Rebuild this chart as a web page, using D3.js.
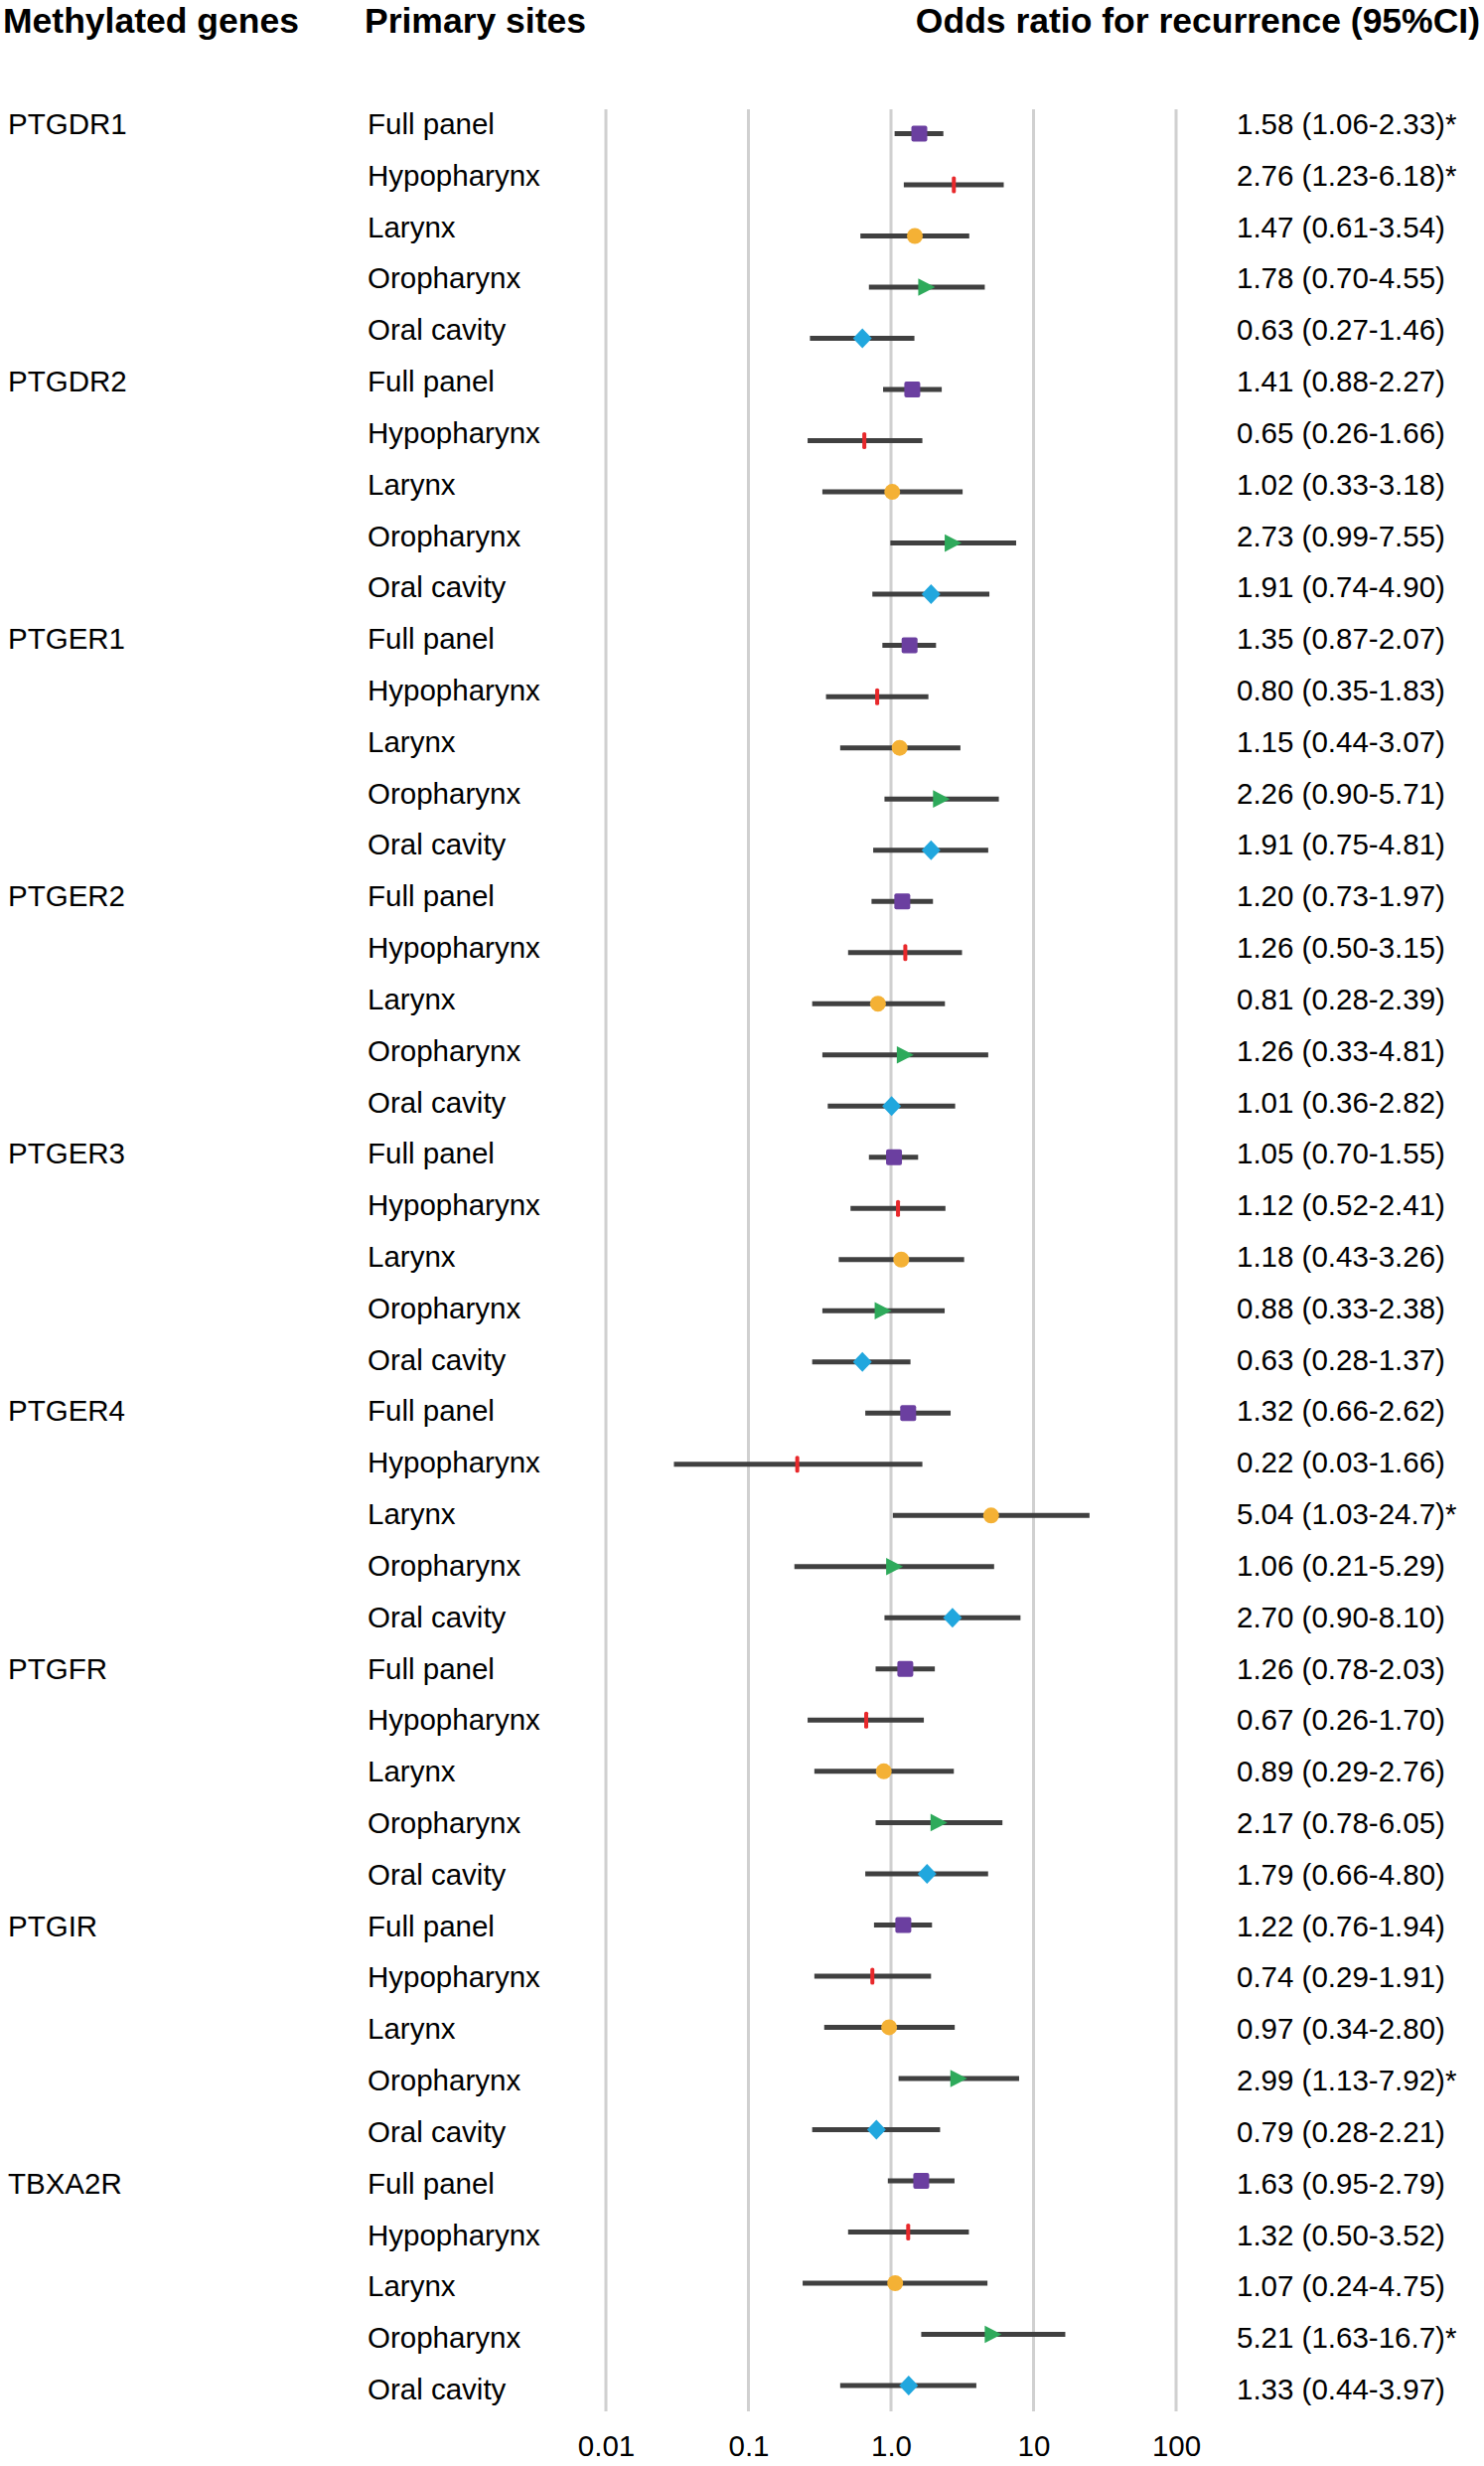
<!DOCTYPE html>
<html>
<head>
<meta charset="utf-8">
<script src="https://cdn.jsdelivr.net/npm/d3@7"></script>
<style>
  html, body { margin: 0; padding: 0; background: #fff; }
  svg { display: block; }
  text { font-family: "Liberation Sans", Arial, Helvetica, sans-serif; fill: #000; }
</style>
</head>
<body>
<svg id="chart" width="1494" height="2482"></svg>
<script>
// ---- data ----
const genes = ["PTGDR1", "PTGDR2", "PTGER1", "PTGER2", "PTGER3", "PTGER4", "PTGFR", "PTGIR", "TBXA2R"];
const sites = ["Full panel", "Hypopharynx", "Larynx", "Oropharynx", "Oral cavity"];
const oddsRatio = [
  1.58, 2.76, 1.47, 1.78, 0.63,
  1.41, 0.65, 1.02, 2.73, 1.91,
  1.35, 0.80, 1.15, 2.26, 1.91,
  1.20, 1.26, 0.81, 1.26, 1.01,
  1.05, 1.12, 1.18, 0.88, 0.63,
  1.32, 0.22, 5.04, 1.06, 2.70,
  1.26, 0.67, 0.89, 2.17, 1.79,
  1.22, 0.74, 0.97, 2.99, 0.79,
  1.63, 1.32, 1.07, 5.21, 1.33
];
const ciLow = [
  1.06, 1.23, 0.61, 0.70, 0.27,
  0.88, 0.26, 0.33, 0.99, 0.74,
  0.87, 0.35, 0.44, 0.90, 0.75,
  0.73, 0.50, 0.28, 0.33, 0.36,
  0.70, 0.52, 0.43, 0.33, 0.28,
  0.66, 0.03, 1.03, 0.21, 0.90,
  0.78, 0.26, 0.29, 0.78, 0.66,
  0.76, 0.29, 0.34, 1.13, 0.28,
  0.95, 0.50, 0.24, 1.63, 0.44
];
const ciHigh = [
  2.33, 6.18, 3.54, 4.55, 1.46,
  2.27, 1.66, 3.18, 7.55, 4.90,
  2.07, 1.83, 3.07, 5.71, 4.81,
  1.97, 3.15, 2.39, 4.81, 2.82,
  1.55, 2.41, 3.26, 2.38, 1.37,
  2.62, 1.66, 24.7, 5.29, 8.10,
  2.03, 1.70, 2.76, 6.05, 4.80,
  1.94, 1.91, 2.80, 7.92, 2.21,
  2.79, 3.52, 4.75, 16.7, 3.97
];
const significant = [
  1, 1, 0, 0, 0,
  0, 0, 0, 0, 0,
  0, 0, 0, 0, 0,
  0, 0, 0, 0, 0,
  0, 0, 0, 0, 0,
  0, 0, 1, 0, 0,
  0, 0, 0, 0, 0,
  0, 0, 0, 1, 0,
  0, 0, 0, 1, 0
];
const tickValues = [0.01, 0.1, 1, 10, 100];
const tickLabels = ["0.01", "0.1", "1.0", "10", "100"];
const headers = ["Methylated genes", "Primary sites", "Odds ratio for recurrence (95%CI)"];

// ---- layout ----
const siteColor = d3.scaleOrdinal().domain(sites)
  .range(["#6B3FA0", "#E8282B", "#F4B135", "#2EAA5B", "#21A7DE"]);

const rows = [];
genes.forEach((g, gi) => sites.forEach((s, si) => {
  const i = gi * sites.length + si;
  rows.push({ i, gene: g, site: s, first: si === 0, or: oddsRatio[i], lo: ciLow[i], hi: ciHigh[i], sig: significant[i] });
}));

const svg = d3.select("#chart");
const x = d3.scaleLog().domain([0.01, 100]).range([610, 1184]);
const y = d3.scalePoint().domain(d3.range(rows.length)).range([134.5, 2401]);      // marks
const yText = d3.scalePoint().domain(d3.range(rows.length)).range([135, 2415]);   // text baselines

const fs = 29.5;

// headers
svg.append("text").attr("x", 3).attr("y", 33).attr("font-size", 35.5).attr("font-weight", "bold").text(headers[0]);
svg.append("text").attr("x", 367).attr("y", 33).attr("font-size", 35.5).attr("font-weight", "bold").text(headers[1]);
svg.append("text").attr("x", 1490).attr("y", 33).attr("font-size", 35.5).attr("font-weight", "bold")
  .attr("text-anchor", "end").text(headers[2]);

// gridlines
svg.append("g").selectAll("line").data(tickValues).join("line")
  .attr("x1", d => x(d)).attr("x2", d => x(d))
  .attr("y1", 110).attr("y2", 2427)
  .attr("stroke", "#D0D0D0").attr("stroke-width", 3);

// axis
const axis = d3.axisBottom(x).tickValues(tickValues)
  .tickFormat((d, i) => tickLabels[i]).tickSize(0).tickPadding(0);
const ag = svg.append("g").attr("transform", "translate(0,2451)").call(axis);
ag.select(".domain").remove();
ag.selectAll("text").attr("font-size", fs).attr("fill", "#000")
  .style("font-family", '"Liberation Sans", Arial, sans-serif');

// text columns
const fmt = v => v >= 10 ? v.toFixed(1) : v.toFixed(2);
svg.append("g").selectAll("text").data(rows.filter(r => r.first)).join("text")
  .attr("x", 8).attr("y", r => yText(r.i)).attr("font-size", fs).text(r => r.gene);
svg.append("g").selectAll("text").data(rows).join("text")
  .attr("x", 370).attr("y", r => yText(r.i)).attr("font-size", fs).text(r => r.site);
svg.append("g").selectAll("text").data(rows).join("text")
  .attr("x", 1245).attr("y", r => yText(r.i)).attr("font-size", fs)
  .text(r => `${fmt(r.or)} (${fmt(r.lo)}-${fmt(r.hi)})${r.sig ? "*" : ""}`);

// CI bars
svg.append("g").selectAll("line").data(rows).join("line")
  .attr("x1", r => x(r.lo)).attr("x2", r => x(r.hi))
  .attr("y1", r => y(r.i)).attr("y2", r => y(r.i))
  .attr("stroke", "#404040").attr("stroke-width", 5);

// markers
const shapes = {
  "Full panel": "M-8,-6 Q-8,-8 -6,-8 L6,-8 Q8,-8 8,-6 L8,6 Q8,8 6,8 L-6,8 Q-8,8 -8,6 Z",
  "Hypopharynx": "M-2,-7 Q-2,-8.5 0,-8.5 Q2,-8.5 2,-7 L2,7 Q2,8.5 0,8.5 Q-2,8.5 -2,7 Z",
  "Larynx": d3.symbol(d3.symbolCircle, Math.PI * 8 * 8)(),
  "Oropharynx": "M-8.5,-8.8 L8.5,0 L-8.5,8.8 Z",
  "Oral cavity": "M0,-10 L9.5,0 L0,10 L-9.5,0 Z"
};
svg.append("g").selectAll("path").data(rows).join("path")
  .attr("transform", r => `translate(${x(r.or)},${y(r.i)})`)
  .attr("d", r => shapes[r.site])
  .attr("fill", r => siteColor(r.site));
</script>
</body>
</html>
